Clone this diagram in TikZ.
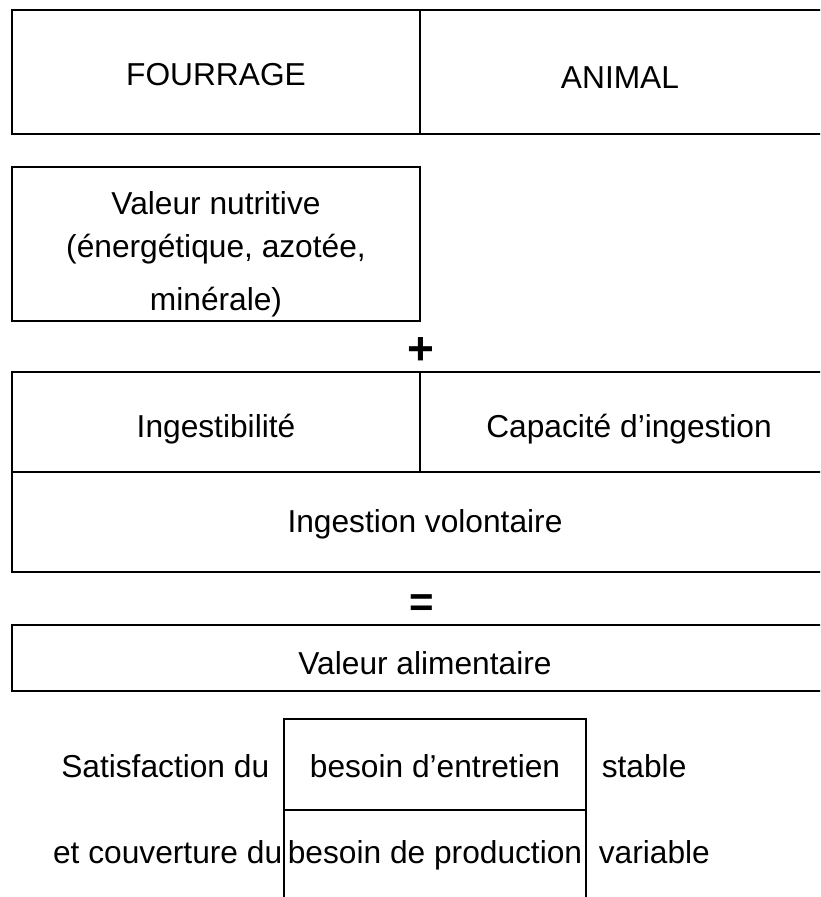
\documentclass[tikz,border=0pt]{standalone}
\usepackage{fontspec}
\setmainfont{Liberation Sans}
\begin{document}
\begin{tikzpicture}[x=1pt, y=-1pt, line width=1.6pt,
    every node/.style={font=\fontsize{31.7}{43}\selectfont, inner sep=0pt},
    sign/.style={font=\fontsize{46}{46}\selectfont\bfseries}]
  \clip (0, 0) rectangle (820, 897);
  \fill[white] (0, 0) rectangle (820, 897);
  % fourrage / animal
  \draw (12, 10) rectangle (840, 134);
  \draw (420, 10) -- (420, 134);
  \node (fourrage) at (216, 75) {FOURRAGE};
  \node (animal) at (620, 78) {ANIMAL};
  % valeur nutritive
  \draw (12, 167) rectangle (420, 321);
  \node[align=center] (nutritive) at (216, 254)
    {Valeur nutritive\\(énergétique, azotée,\\[10pt]minérale)};
  \node[sign] (plus) at (421, 351) {+};
  % ingestion
  \draw (12, 372) rectangle (840, 572);
  \draw (12, 472) -- (840, 472);
  \draw (420, 372) -- (420, 472);
  \node[anchor=base] (ingestibilite) at (216, 437) {Ingestibilité};
  \node[anchor=base] (capacite) at (629, 437) {Capacité d’ingestion};
  \node (volontaire) at (425, 524) {Ingestion volontaire};
  \node[sign, font=\fontsize{42}{42}\selectfont\bfseries] (egal) at (422, 606) {=};
  % valeur alimentaire
  \draw (12, 625) rectangle (840, 691);
  \node (alimentaire) at (425, 663) {Valeur alimentaire};
  % besoins
  \draw (284, 910) -- (284, 719) -- (586, 719) -- (586, 910);
  \draw (284, 810) -- (586, 810);
  \node[anchor=base] (entretien) at (435, 777) {besoin d’entretien};
  \node[anchor=base] (production) at (435, 863) {besoin de production};
  \node[anchor=base east] (satisfaction) at (270, 777) {Satisfaction du};
  \node[anchor=base east] (couverture) at (283, 863) {et couverture du};
  \node[anchor=base west] (stable) at (601, 777) {stable};
  \node[anchor=base west] (variable) at (598, 863) {variable};
\end{tikzpicture}
\end{document}
